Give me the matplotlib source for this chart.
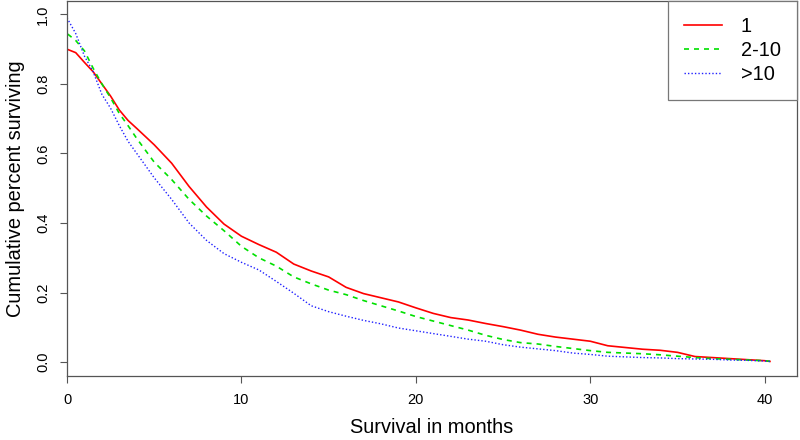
import numpy as np
import matplotlib
matplotlib.use("Agg")
import matplotlib.pyplot as plt

OUT_PATH = "out.png"

# survival curves (time in months, fraction surviving)
MONTHS = [0, 0, 0.5, 1, 1.5, 2, 2.5, 3, 3.5, 4, 5, 6, 7, 8, 9, 10,
          11, 12, 13, 14, 15, 16, 17, 18, 19, 20, 21, 22, 23, 24, 25,
          26, 27, 28, 29, 30, 31, 32, 33, 34, 35, 36, 37, 38, 39, 40, 40.3]

SURV_1 = [1.0, 0.90, 0.89, 0.862, 0.835, 0.80, 0.765, 0.725, 0.695, 0.672,
          0.625, 0.572, 0.505, 0.446, 0.397, 0.362, 0.338, 0.316, 0.282,
          0.262, 0.245, 0.215, 0.197, 0.185, 0.173, 0.156, 0.140, 0.128,
          0.121, 0.111, 0.102, 0.092, 0.080, 0.072, 0.066, 0.060, 0.047,
          0.042, 0.037, 0.034, 0.028, 0.016, 0.013, 0.010, 0.007, 0.004, 0.002]

SURV_2_10 = [1.0, 0.945, 0.925, 0.895, 0.845, 0.80, 0.76, 0.715, 0.68, 0.643,
             0.575, 0.525, 0.468, 0.42, 0.378, 0.333, 0.30, 0.276, 0.245,
             0.225, 0.207, 0.194, 0.177, 0.162, 0.147, 0.131, 0.118, 0.105,
             0.092, 0.077, 0.065, 0.056, 0.052, 0.045, 0.039, 0.033, 0.028,
             0.026, 0.024, 0.021, 0.017, 0.013, 0.010, 0.008, 0.006, 0.004, 0.002]

SURV_GT10 = [1.0, 0.99, 0.945, 0.88, 0.835, 0.77, 0.73, 0.68, 0.635, 0.60,
             0.53, 0.468, 0.40, 0.35, 0.312, 0.287, 0.265, 0.232, 0.198,
             0.162, 0.145, 0.132, 0.12, 0.11, 0.098, 0.09, 0.082, 0.074,
             0.066, 0.06, 0.05, 0.043, 0.038, 0.033, 0.026, 0.022, 0.017,
             0.015, 0.013, 0.012, 0.010, 0.009, 0.008, 0.006, 0.005, 0.003, 0.002]

LABELS = ["1", "2-10", ">10"]
X_TICKS = [0, 10, 20, 30, 40]
Y_TICKS = [0.0, 0.2, 0.4, 0.6, 0.8, 1.0]

plt.rcParams["font.family"] = ["Liberation Sans", "DejaVu Sans"]


def plot_survival():
    fig = plt.figure(figsize=(8, 4.4), dpi=100)
    ax = fig.add_axes([67 / 800, 64 / 440, 730 / 800, 375.5 / 440])

    ax.plot(MONTHS, SURV_1, color="#FF0000", lw=1.2, label=LABELS[0])
    ax.plot(MONTHS, SURV_2_10, color="#00E000", lw=1.2,
            linestyle=(0, (3, 3)), label=LABELS[1])
    ax.plot(MONTHS, SURV_GT10, color="#2020FF", lw=1.0,
            linestyle=(0, (1, 1.5)), label=LABELS[2])

    ax.set_xlim(0, 41.85)
    ax.set_ylim(-0.04, 1.04)
    ax.set_xticks(X_TICKS)
    ax.set_yticks(Y_TICKS)
    ax.set_yticklabels([f"{v:.1f}" for v in Y_TICKS], rotation=90, va="center")
    ax.tick_params(direction="out", length=5, width=0.8, color="#555555",
                   labelsize=10.5, pad=7)

    for sp in ax.spines.values():
        sp.set_color("#555555")
        sp.set_linewidth(0.9)

    ax.set_xlabel("Survival in months", fontsize=14.4, labelpad=8)
    ax.set_ylabel("Cumulative percent surviving", fontsize=14.4, labelpad=8)

    leg = ax.legend(loc="upper right", bbox_to_anchor=(1, 1), borderaxespad=0,
                    fontsize=14.4, fancybox=False, framealpha=1,
                    edgecolor="#777777", handlelength=1.9, handletextpad=0.95,
                    borderpad=0.8, labelspacing=0.25)
    leg.get_frame().set_linewidth(0.9)

    fig.savefig(OUT_PATH, dpi=100)
    plt.close(fig)


if __name__ == "__main__":
    plot_survival()
